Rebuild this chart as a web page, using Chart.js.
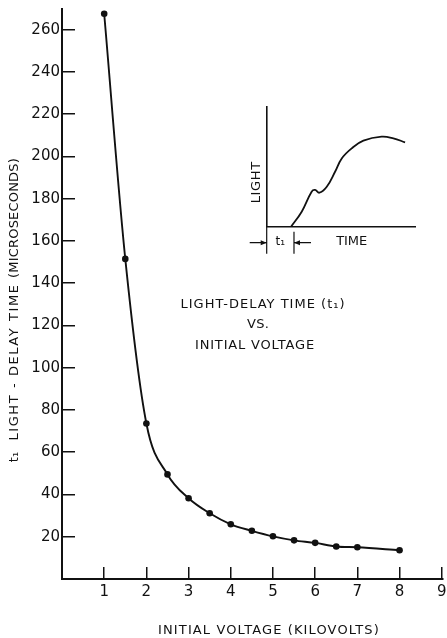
<!DOCTYPE html>
<html>
<head>
<meta charset="utf-8">
<script src="https://cdn.jsdelivr.net/npm/chart.js@4.4.1/dist/chart.umd.min.js"></script>
<style>
  html, body { margin: 0; padding: 0; background: #fff; }
  #wrap { position: relative; width: 447px; height: 638px; }
  #main { position: absolute; left: 0; top: 0; }
  #inset { position: absolute; left: 236px; top: 95px; }
</style>
</head>
<body>
<div id="wrap">
  <canvas id="main" width="447" height="638"></canvas>
  <canvas id="inset" width="190" height="170"></canvas>
</div>
<script>
// measured points: initial voltage (kV) vs light-delay time (microseconds)
const voltage = [1, 1.5, 2, 2.5, 3, 3.5, 4, 4.5, 5, 5.5, 6, 6.5, 7, 8];
const delay = [267.5, 151.5, 73.6, 49.5, 38.2, 31.1, 25.9, 22.8, 20.2, 18.3, 17.1, 15.4, 15.0, 13.6];
const xTicks = [1, 2, 3, 4, 5, 6, 7, 8, 9];
const yTicks = [20, 40, 60, 80, 100, 120, 140, 160, 180, 200, 220, 240, 260];

// inset sketch: light output against time (arbitrary units)
const insetTime = [1.64, 2.36, 3.03, 3.26, 3.55, 4.05, 4.61, 5.06, 5.73, 6.52, 7.75, 8.54, 9.33];
const insetLight = [0, 1.25, 2.92, 3.06, 2.83, 3.33, 4.58, 5.69, 6.53, 7.17, 7.5, 7.36, 7.03];
const insetT1 = 1.84;

const INK = '#111';
const FONT = 'DejaVu Sans';

// draw centred text, spreading letters so it fills the given width
function text(ctx, str, x, y, size, rot, width) {
  ctx.save();
  ctx.translate(x, y);
  if (rot) ctx.rotate(rot);
  ctx.font = size + 'px "' + FONT + '"';
  ctx.letterSpacing = '0px';
  if (width) {
    const w = ctx.measureText(str).width;
    const n = [...str].length;
    ctx.letterSpacing = ((width - w) / n).toFixed(2) + 'px';
  }
  ctx.fillStyle = INK;
  ctx.textAlign = 'center';
  ctx.textBaseline = 'middle';
  ctx.fillText(str, 0, 0);
  ctx.restore();
}

const mainLabels = {
  id: 'mainLabels',
  afterDraw(chart) {
    const ctx = chart.ctx;
    text(ctx, 'LIGHT-DELAY TIME (t\u2081)', 263, 305, 13, 0, 165);
    text(ctx, 'VS.', 258, 325, 13, 0, 22);
    text(ctx, 'INITIAL VOLTAGE', 255, 346, 13, 0, 120);
    text(ctx, 'INITIAL VOLTAGE (KILOVOLTS)', 269, 631, 13, 0, 222);
    const up = -Math.PI / 2;
    text(ctx, 't\u2081', 15, 457, 13, up);
    text(ctx, 'LIGHT - DELAY TIME', 15, 362, 13, up, 157);
    text(ctx, '(MICROSECONDS)', 15, 218, 13, up, 120);
  }
};

new Chart(document.getElementById('main'), {
  type: 'line',
  data: {
    datasets: [{
      data: voltage.map((v, i) => ({ x: v, y: delay[i] })),
      borderColor: INK,
      backgroundColor: INK,
      borderWidth: 1.9,
      pointRadius: 3.3,
      pointBackgroundColor: INK,
      pointBorderWidth: 0,
      cubicInterpolationMode: 'monotone',
      fill: false
    }]
  },
  options: {
    responsive: false,
    animation: false,
    devicePixelRatio: 1,
    layout: { padding: { top: 8.5, right: 1, left: 0, bottom: 0 } },
    plugins: { legend: { display: false }, tooltip: { enabled: false } },
    scales: {
      x: {
        type: 'linear', min: 0, max: 9.03,
        afterBuildTicks: s => { s.ticks = xTicks.map(v => ({ value: v })); },
        afterFit: s => { s.height = 59; s.paddingLeft = 0; s.paddingRight = 0; },
        border: { display: true, color: INK, width: 2 },
        grid: { display: true, drawOnChartArea: false, drawTicks: true, tickLength: -12, color: INK, lineWidth: 1.5 },
        ticks: { color: INK, padding: 16, font: { family: FONT, size: 15 }, maxRotation: 0 }
      },
      y: {
        min: 0, max: 270,
        afterBuildTicks: s => { s.ticks = yTicks.map(v => ({ value: v })); },
        afterFit: s => { s.width = 62; s.paddingTop = 0; s.paddingBottom = 0; },
        border: { display: true, color: INK, width: 2 },
        grid: { display: true, drawOnChartArea: false, drawTicks: true, tickLength: -13, color: INK, lineWidth: 1.5 },
        ticks: { color: INK, padding: 15, font: { family: FONT, size: 15 } }
      }
    }
  },
  plugins: [mainLabels]
});

const insetLabels = {
  id: 'insetLabels',
  afterDraw(chart) {
    const ctx = chart.ctx;
    const xs = chart.scales.x, ys = chart.scales.y;
    const x0 = xs.getPixelForValue(0);
    const x1 = xs.getPixelForValue(insetT1);
    const base = ys.getPixelForValue(0);
    text(ctx, 'LIGHT', x0 - 10, ys.getPixelForValue(3.7), 13, -Math.PI / 2, 42);
    text(ctx, 'TIME', xs.getPixelForValue(5.73), base + 15, 13, 0, 31);
    text(ctx, 't\u2081', (x0 + x1) / 2, base + 15, 12);
    ctx.save();
    ctx.strokeStyle = INK;
    ctx.fillStyle = INK;
    ctx.lineWidth = 1.2;
    ctx.beginPath();
    ctx.moveTo(x0, base); ctx.lineTo(x0, base + 27);
    ctx.moveTo(x1, base + 5); ctx.lineTo(x1, base + 27);
    const ay = base + 16;
    ctx.moveTo(x0 - 17, ay); ctx.lineTo(x0, ay);
    ctx.moveTo(x1 + 17, ay); ctx.lineTo(x1, ay);
    ctx.stroke();
    ctx.beginPath();
    ctx.moveTo(x0, ay); ctx.lineTo(x0 - 6, ay - 2.5); ctx.lineTo(x0 - 6, ay + 2.5); ctx.closePath();
    ctx.moveTo(x1, ay); ctx.lineTo(x1 + 6, ay - 2.5); ctx.lineTo(x1 + 6, ay + 2.5); ctx.closePath();
    ctx.fill();
    ctx.restore();
  }
};

new Chart(document.getElementById('inset'), {
  type: 'line',
  data: {
    datasets: [{
      data: insetTime.map((t, i) => ({ x: t, y: insetLight[i] })),
      borderColor: INK,
      borderWidth: 1.8,
      pointRadius: 0,
      tension: 0.4,
      fill: false
    }]
  },
  options: {
    responsive: false,
    animation: false,
    devicePixelRatio: 1,
    layout: { padding: { left: 30.7, top: 11.7, right: 11, bottom: 38.3 } },
    plugins: { legend: { display: false }, tooltip: { enabled: false } },
    scales: {
      x: {
        type: 'linear', min: 0, max: 10,
        afterFit: s => { s.height = 0; },
        border: { display: true, color: INK, width: 1.6 },
        grid: { display: false },
        ticks: { display: false }
      },
      y: {
        min: 0, max: 10,
        afterFit: s => { s.width = 0; },
        border: { display: true, color: INK, width: 1.6 },
        grid: { display: false },
        ticks: { display: false }
      }
    }
  },
  plugins: [insetLabels]
});
</script>
</body>
</html>
